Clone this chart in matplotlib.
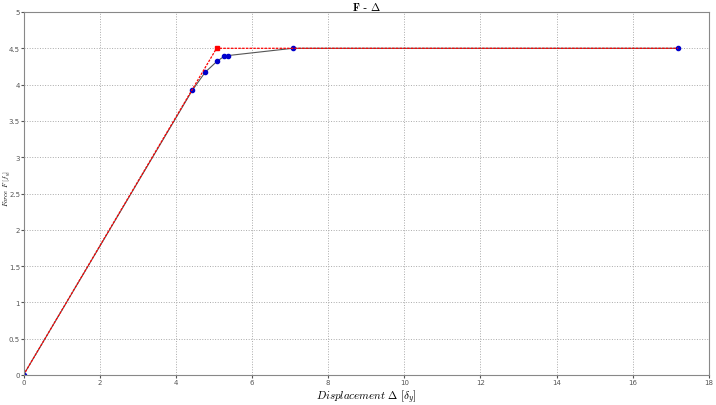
import matplotlib
matplotlib.use("Agg")
from matplotlib import pyplot as plt

plt.rcParams['mathtext.fontset'] = 'cm'

# nonlinear response (blue points)
disp_nl = [0.0, 4.43, 4.77, 5.08, 5.27, 5.37, 7.07, 17.19]
force_nl = [0.0, 3.92, 4.17, 4.32, 4.39, 4.40, 4.50, 4.50]

# bilinear idealisation (red)
disp_bl = [0.0, 5.07, 17.19]
force_bl = [0.0, 4.50, 4.50]

fig = plt.figure(figsize=(7.16, 4.06), dpi=100)
ax = fig.add_axes([23.5/716, 30/406, 685.5/716, 363/406])

ax.plot(disp_nl, force_nl, '-', color='#555555', lw=0.8)
ax.plot(disp_nl, force_nl, 'o', color='#0000cc', ms=3)

ax.plot(disp_bl, force_bl, '--', color='red', lw=0.9, dashes=(2, 1))
ax.plot(disp_bl[1:2], force_bl[1:2], 's', color='red', ms=2.5)

ax.set_xlim(0, 18)
ax.set_ylim(0, 5)
ax.set_xticks(range(0, 19, 2))
ax.set_yticks([0, 0.5, 1, 1.5, 2, 2.5, 3, 3.5, 4, 4.5, 5])
ax.set_yticklabels(['0', '0.5', '1', '1.5', '2', '2.5', '3', '3.5', '4', '4.5', '5'])
ax.tick_params(labelsize=5, length=2, colors='#555555', pad=1)
ax.tick_params(axis='y', pad=0.5)
ax.grid(True, ls=':', color='#aaaaaa', lw=0.7)
for s in ax.spines.values():
    s.set_color('#888888')

ax.set_title(r'$\mathbf{F}$ - $\mathbf{\Delta}$', fontsize=8, pad=1)
ax.set_xlabel(r'$Displacement\ \Delta\ [\delta_y]$', fontsize=8, labelpad=2)
fig.text(1.5/716, 1 - 188/406, r'$Force\ F\ [f_y]$', fontsize=5,
         rotation=90, ha='left', va='center')

plt.savefig("out.png", dpi=100)
